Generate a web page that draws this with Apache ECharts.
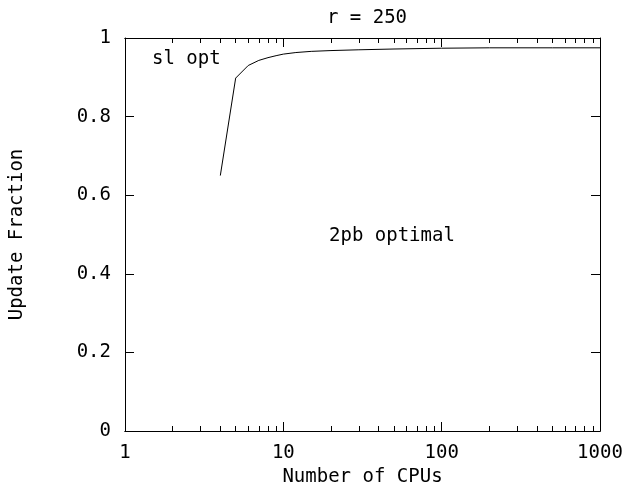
<!DOCTYPE html>
<html>
<head>
<meta charset="utf-8">
<script src="https://cdn.jsdelivr.net/npm/echarts@6/dist/echarts.min.js"></script>
<style>
  html, body { margin: 0; padding: 0; background: #fff; }
  #chart { width: 624px; height: 487px; }
</style>
</head>
<body>
<div id="chart"></div>
<script>
  // data
  const cpus = [4, 5, 6, 7, 8, 9, 10, 12, 15, 20, 30, 50, 100, 200, 500, 1000]
  const fraction = [0.65, 0.898, 0.93, 0.943, 0.95, 0.955, 0.959, 0.963, 0.966, 0.968, 0.970, 0.972, 0.974, 0.975, 0.975, 0.975]
  const majorTicks = [1, 10, 100, 1000]
  const minorTicks = [2, 3, 4, 5, 6, 7, 8, 9, 20, 30, 40, 50, 60, 70, 80, 90, 200, 300, 400, 500, 600, 700, 800, 900]
  const yTicks = [0, 0.2, 0.4, 0.6, 0.8, 1]

  const font = 'DejaVu Sans Mono'
  const fsize = 19
  const ink = '#000'

  const chart = echarts.init(document.getElementById('chart'), null, { renderer: 'canvas' })

  function xAxisDef(position, ticks, len, withLabels) {
    return {
      type: 'log',
      logBase: 10,
      min: 1,
      max: 1000,
      position: position,
      axisLine: { show: true, lineStyle: { color: ink, width: 1 } },
      axisTick: { show: true, inside: true, length: len, customValues: ticks, lineStyle: { color: ink } },
      axisLabel: withLabels
        ? { show: true, customValues: majorTicks, color: ink, fontFamily: font, fontSize: fsize, margin: 13,
            formatter: v => String(Math.round(v)) }
        : { show: false },
      splitLine: { show: false },
      minorTick: { show: false },
      name: withLabels ? 'Number of CPUs' : '',
      nameLocation: 'middle',
      nameGap: 34,
      nameTextStyle: { color: ink, fontFamily: font, fontSize: fsize }
    }
  }

  function yAxisDef(position, withLabels) {
    return {
      type: 'value',
      min: 0,
      max: 1,
      interval: 0.2,
      position: position,
      axisLine: { show: true, lineStyle: { color: ink, width: 1 } },
      axisTick: { show: true, inside: true, length: 9, lineStyle: { color: ink } },
      axisLabel: withLabels
        ? { show: true, color: ink, fontFamily: font, fontSize: fsize, margin: 14,
            formatter: v => (yTicks.indexOf(v) >= 0 ? String(Math.round(v * 10) / 10) : '') }
        : { show: false },
      splitLine: { show: false },
      name: withLabels ? 'Update Fraction' : '',
      nameLocation: 'middle',
      nameGap: 98,
      nameRotate: 90,
      nameTextStyle: { color: ink, fontFamily: font, fontSize: fsize }
    }
  }

  chart.setOption({
    backgroundColor: '#fff',
    animation: false,
    title: {
      text: 'r = 250',
      left: 362,
      top: 4,
      textAlign: 'center',
      textStyle: { color: ink, fontFamily: font, fontSize: fsize, fontWeight: 'normal' }
    },
    grid: { left: 125, right: 24, top: 38, bottom: 56, outerBoundsMode: 'none' },
    xAxis: [
      xAxisDef('bottom', majorTicks, 9, true),
      xAxisDef('bottom', minorTicks, 5, false),
      xAxisDef('top', majorTicks, 9, false),
      xAxisDef('top', minorTicks, 5, false)
    ],
    yAxis: [
      yAxisDef('left', true),
      yAxisDef('right', false)
    ],
    graphic: [
      { type: 'text', left: 152, top: 50, style: { text: 'sl opt', fill: ink, font: fsize + 'px "DejaVu Sans Mono"' } },
      { type: 'text', left: 329, top: 227, style: { text: '2pb optimal', fill: ink, font: fsize + 'px "DejaVu Sans Mono"' } }
    ],
    series: [
      {
        type: 'line',
        xAxisIndex: 0,
        yAxisIndex: 0,
        data: cpus.map((c, i) => [c, fraction[i]]),
        showSymbol: false,
        smooth: false,
        lineStyle: { color: ink, width: 1 }
      }
    ]
  })
</script>
</body>
</html>
